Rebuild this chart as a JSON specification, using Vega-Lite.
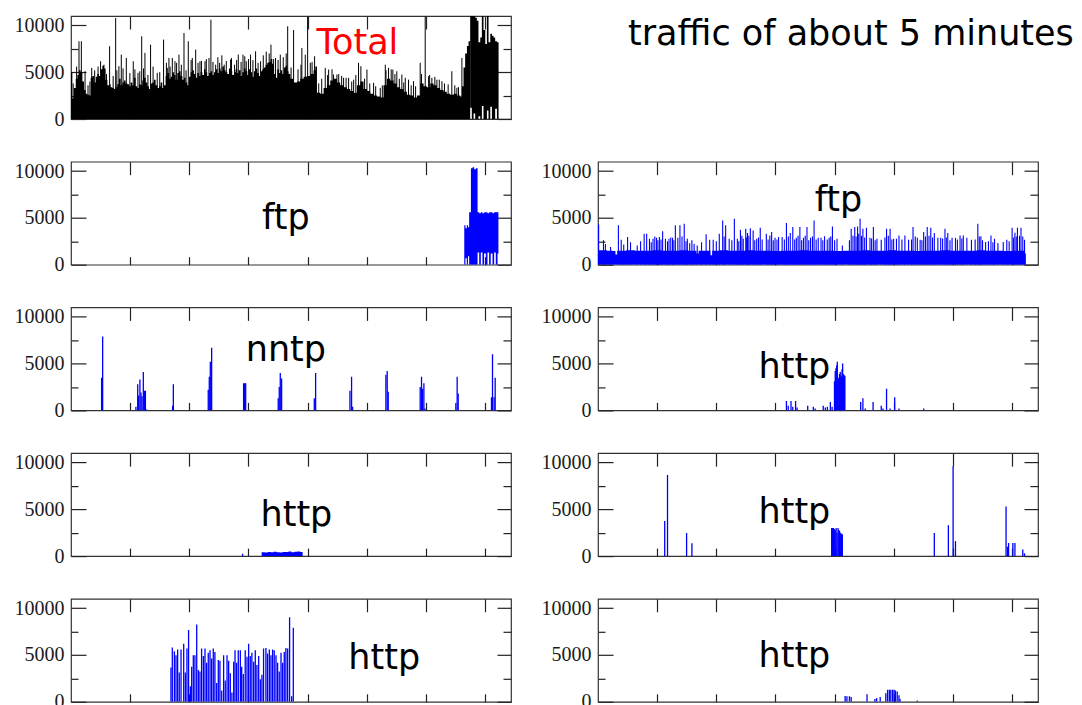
{
  "$schema": "https://vega.github.io/schema/vega-lite/v6.json",
  "padding": {"left": 13, "top": 14, "right": 0, "bottom": 0},
  "background": "white",
  "bounds": "flush",
  "columns": 2,
  "spacing": {"row": 42.7, "column": 87},
  "config": {
    "view": {"stroke": "#333333", "strokeWidth": 1.2},
    "axis": {"domain": false, "grid": false, "minExtent": 0, "tickColor": "#222222", "tickWidth": 1.2, "labelFont": "Liberation Serif", "labelFontSize": 20, "labelColor": "#1a1a1a"},
    "text": {"font": "DejaVu Sans", "fontSize": 35, "baseline": "alphabetic", "align": "center", "color": "#000000"}
  },
  "datasets": {
    "total_body": [
      {"t":0.0,"v":5000},{"t":0.9,"v":2200},{"t":2.0,"v":3300},{"t":3.2,"v":4300},{"t":4.3,"v":4700},{"t":5.4,"v":5200},{"t":6.5,"v":5000},{"t":7.7,"v":4000},{"t":8.8,"v":3100},{"t":9.9,"v":2700},
      {"t":11.0,"v":2600},{"t":12.2,"v":2500},{"t":13.3,"v":4400},{"t":14.4,"v":4600},{"t":15.5,"v":3900},{"t":16.7,"v":4500},{"t":17.8,"v":4800},{"t":18.9,"v":4600},{"t":20.0,"v":5300},{"t":21.2,"v":5700},
      {"t":22.3,"v":5400},{"t":23.4,"v":4200},{"t":24.6,"v":3600},{"t":25.7,"v":3700},{"t":26.8,"v":3400},{"t":27.9,"v":3300},{"t":29.1,"v":3200},{"t":30.2,"v":3400},{"t":31.3,"v":3700},{"t":32.4,"v":4300},
      {"t":33.6,"v":3600},{"t":34.7,"v":3900},{"t":35.8,"v":4100},{"t":36.9,"v":3800},{"t":38.1,"v":3700},{"t":39.2,"v":3500},{"t":40.3,"v":3900},{"t":41.5,"v":3600},{"t":42.6,"v":4400},{"t":43.7,"v":3500},
      {"t":44.8,"v":3300},{"t":46.0,"v":3700},{"t":47.1,"v":3600},{"t":48.2,"v":4100},{"t":49.3,"v":4400},{"t":50.5,"v":3900},{"t":51.6,"v":3500},{"t":52.7,"v":3200},{"t":53.8,"v":3800},{"t":55.0,"v":3900},
      {"t":56.1,"v":4200},{"t":57.2,"v":3600},{"t":58.4,"v":3300},{"t":59.5,"v":3500},{"t":60.6,"v":3900},{"t":61.7,"v":3300},{"t":62.9,"v":3600},{"t":64.0,"v":4600},{"t":65.1,"v":4900},{"t":66.2,"v":4300},
      {"t":67.4,"v":4500},{"t":68.5,"v":5000},{"t":69.6,"v":4700},{"t":70.7,"v":4200},{"t":71.9,"v":4900},{"t":73.0,"v":5100},{"t":74.1,"v":4600},{"t":75.3,"v":4200},{"t":76.4,"v":4400},{"t":77.5,"v":3900},
      {"t":78.6,"v":3600},{"t":79.8,"v":4500},{"t":80.9,"v":5000},{"t":82.0,"v":5200},{"t":83.1,"v":4800},{"t":84.3,"v":4400},{"t":85.4,"v":4900},{"t":86.5,"v":4600},{"t":87.6,"v":5000},{"t":88.8,"v":4700},
      {"t":89.9,"v":5300},{"t":91.0,"v":5000},{"t":92.1,"v":4600},{"t":93.3,"v":4900},{"t":94.4,"v":5100},{"t":95.5,"v":4700},{"t":96.7,"v":5000},{"t":97.8,"v":5300},{"t":98.9,"v":4900},{"t":100.0,"v":5400},
      {"t":101.2,"v":5100},{"t":102.3,"v":5600},{"t":103.4,"v":5200},{"t":104.5,"v":5000},{"t":105.7,"v":4800},{"t":106.8,"v":5400},{"t":107.9,"v":5100},{"t":109.0,"v":4700},{"t":110.2,"v":5000},{"t":111.3,"v":5300},
      {"t":112.4,"v":4900},{"t":113.5,"v":5200},{"t":114.7,"v":4600},{"t":115.8,"v":5000},{"t":116.9,"v":5400},{"t":118.1,"v":5100},{"t":119.2,"v":4700},{"t":120.3,"v":5300},{"t":121.4,"v":5000},{"t":122.6,"v":4500},
      {"t":123.7,"v":5100},{"t":124.8,"v":5400},{"t":125.9,"v":4900},{"t":127.1,"v":4600},{"t":128.2,"v":5100},{"t":129.3,"v":5300},{"t":130.4,"v":5500},{"t":131.6,"v":5800},{"t":132.7,"v":6000},{"t":133.8,"v":6100},
      {"t":134.9,"v":6400},{"t":136.1,"v":5900},{"t":137.2,"v":4800},{"t":138.3,"v":4400},{"t":139.5,"v":5300},{"t":140.6,"v":4900},{"t":141.7,"v":5200},{"t":142.8,"v":4800},{"t":144.0,"v":5500},{"t":145.1,"v":5700},
      {"t":146.2,"v":5100},{"t":147.1,"v":4800},{"t":148.3,"v":4300},{"t":150.5,"v":3900},{"t":152.8,"v":4000},{"t":155.0,"v":4300},{"t":157.3,"v":4500},{"t":159.5,"v":4600},{"t":161.8,"v":4800},{"t":164.0,"v":5200},
      {"t":165.2,"v":5600},{"t":166.3,"v":2800},{"t":168.5,"v":2700},{"t":170.8,"v":3300},{"t":173.0,"v":3600},{"t":175.3,"v":4100},{"t":177.5,"v":4300},{"t":179.8,"v":3900},{"t":182.0,"v":3600},{"t":184.3,"v":3400},
      {"t":186.6,"v":3200},{"t":188.8,"v":3000},{"t":191.1,"v":2800},{"t":193.3,"v":3600},{"t":195.6,"v":4000},{"t":197.8,"v":3200},{"t":200.1,"v":3000},{"t":202.3,"v":2700},{"t":204.6,"v":2500},{"t":206.8,"v":2400},
      {"t":209.1,"v":2300},{"t":211.3,"v":3600},{"t":213.6,"v":4300},{"t":215.8,"v":4100},{"t":218.1,"v":3800},{"t":220.3,"v":3400},{"t":222.6,"v":3200},{"t":224.9,"v":2900},{"t":227.1,"v":2600},{"t":229.4,"v":2500},
      {"t":231.6,"v":2300},{"t":233.9,"v":2500},{"t":236.1,"v":3800},{"t":238.4,"v":3500},{"t":240.6,"v":3400},{"t":242.9,"v":3800},{"t":245.1,"v":3600},{"t":247.4,"v":3300},{"t":249.6,"v":3100},{"t":251.9,"v":2900},
      {"t":254.1,"v":2700},{"t":256.4,"v":2600},{"t":258.7,"v":2700},{"t":260.9,"v":2500},{"t":263.2,"v":2400},{"t":264.3,"v":3500},{"t":265.4,"v":5500},{"t":266.5,"v":7000},{"t":267.7,"v":7800},{"t":268.8,"v":8300},
      {"t":269.9,"v":8300}
    ],
    "total_burst": [
      {"t":269.9,"hi":11500,"lo":1200},{"t":271.0,"hi":11500,"lo":0},{"t":272.2,"hi":11500,"lo":600},{"t":273.3,"hi":10800,"lo":0},{"t":274.4,"hi":10500,"lo":0},
      {"t":275.5,"hi":8200,"lo":300},{"t":276.7,"hi":8700,"lo":0},{"t":277.8,"hi":11500,"lo":1400},{"t":278.9,"hi":9500,"lo":0},{"t":280.1,"hi":8000,"lo":0},
      {"t":281.2,"hi":11500,"lo":900},{"t":282.3,"hi":8200,"lo":0},{"t":283.5,"hi":9100,"lo":1300},{"t":284.6,"hi":8900,"lo":0},{"t":285.7,"hi":8700,"lo":0},
      {"t":286.8,"hi":8300,"lo":1100},{"t":288.0,"hi":8200,"lo":0},{"t":289.1,"hi":8200,"lo":0}
    ],
    "total_spikes": [
      {"t":5.4,"v":8300},{"t":7.0,"v":8300},{"t":9.5,"v":5100},{"t":14.0,"v":5460},{"t":20.0,"v":6170},{"t":22.3,"v":5800},{"t":26.1,"v":7770},{"t":30.2,"v":10780},{"t":32.4,"v":5640},{"t":34.0,"v":6880},
      {"t":37.4,"v":6520},{"t":42.1,"v":6170},{"t":45.3,"v":4930},{"t":47.8,"v":8830},{"t":50.0,"v":7060},{"t":53.8,"v":7940},{"t":58.3,"v":4930},{"t":62.6,"v":8480},{"t":65.1,"v":5460},{"t":66.2,"v":6520},
      {"t":68.5,"v":6520},{"t":70.3,"v":6170},{"t":73.0,"v":6880},{"t":76.4,"v":9180},{"t":79.3,"v":8300},{"t":82.0,"v":6520},{"t":84.3,"v":7410},{"t":87.2,"v":6170},{"t":90.6,"v":6170},{"t":93.3,"v":6520},
      {"t":94.6,"v":10600},{"t":97.8,"v":5800},{"t":100.5,"v":6000},{"t":103.6,"v":5800},{"t":107.9,"v":6350},{"t":110.6,"v":5800},{"t":113.1,"v":6880},{"t":116.3,"v":6880},{"t":118.5,"v":6170},{"t":121.4,"v":6880},
      {"t":124.8,"v":7230},{"t":128.2,"v":6170},{"t":135.2,"v":7940},{"t":138.3,"v":6520},{"t":141.5,"v":6880},{"t":146.5,"v":9900},{"t":150.5,"v":9500},{"t":156.1,"v":7590},{"t":158.4,"v":6880},{"t":160.0,"v":10950},
      {"t":161.8,"v":6000},{"t":164.7,"v":6700},{"t":171.9,"v":5460},{"t":174.2,"v":5280},{"t":177.5,"v":4750},{"t":179.8,"v":4750},{"t":184.3,"v":4400},{"t":187.7,"v":4400},{"t":191.1,"v":4200},{"t":194.4,"v":6000},
      {"t":196.0,"v":5640},{"t":200.1,"v":5280},{"t":204.6,"v":3870},{"t":209.1,"v":3330},{"t":212.5,"v":5800},{"t":214.7,"v":5460},{"t":217.6,"v":5280},{"t":220.3,"v":5100},{"t":223.7,"v":4750},{"t":226.0,"v":4400},
      {"t":228.2,"v":4200},{"t":231.6,"v":4040},{"t":236.1,"v":6000},{"t":239.5,"v":10950},{"t":241.8,"v":4570},{"t":244.0,"v":4400},{"t":247.4,"v":4200},{"t":250.8,"v":4040},{"t":257.5,"v":5100},{"t":260.9,"v":3330},
      {"t":264.3,"v":6520},
      {"t":1.5,"v":3800},{"t":3.8,"v":5600},{"t":11.5,"v":3600},{"t":12.8,"v":4000},{"t":16.0,"v":5200},{"t":18.3,"v":5600},{"t":24.0,"v":4800},{"t":28.5,"v":4600},{"t":31.0,"v":5200},{"t":35.2,"v":5400},
      {"t":39.8,"v":4900},{"t":43.2,"v":5300},{"t":46.5,"v":5100},{"t":49.0,"v":5400},{"t":52.0,"v":4700},{"t":55.5,"v":5600},{"t":60.0,"v":5000},{"t":64.5,"v":6000},{"t":67.0,"v":5600},{"t":71.4,"v":6000},
      {"t":74.6,"v":5800},{"t":77.8,"v":5200},{"t":81.2,"v":6300},{"t":85.9,"v":6000},{"t":88.2,"v":6200},{"t":91.5,"v":6400},{"t":96.0,"v":6100},{"t":99.3,"v":6600},{"t":102.0,"v":6800},{"t":105.0,"v":6200},
      {"t":108.5,"v":6500},{"t":112.0,"v":6300},{"t":115.0,"v":6100},{"t":117.5,"v":6700},{"t":120.0,"v":6400},{"t":123.0,"v":6300},{"t":126.5,"v":6000},{"t":130.0,"v":6800},{"t":132.0,"v":7200},{"t":134.0,"v":7000},
      {"t":137.0,"v":6400},{"t":140.0,"v":6300},{"t":143.5,"v":6600},{"t":145.5,"v":7000},
      {"t":148.8,"v":5500},{"t":153.5,"v":5300},{"t":155.5,"v":5800},{"t":163.0,"v":6100},{"t":167.5,"v":3800},{"t":169.5,"v":4300},{"t":173.5,"v":4700},{"t":176.5,"v":5300},{"t":181.0,"v":4800},{"t":183.0,"v":4600},
      {"t":186.0,"v":4400},{"t":189.8,"v":4000},{"t":192.6,"v":4700},{"t":198.5,"v":4300},{"t":202.0,"v":3800},{"t":206.0,"v":3500},{"t":210.5,"v":3600},{"t":213.0,"v":5200},{"t":216.5,"v":5300},{"t":219.0,"v":4800},
      {"t":222.0,"v":4300},{"t":225.0,"v":3900},{"t":230.0,"v":3600},{"t":233.0,"v":3500},{"t":237.0,"v":4800},{"t":242.5,"v":4700},{"t":246.0,"v":4500},{"t":249.0,"v":4200},{"t":252.5,"v":3800},{"t":255.0,"v":3700},
      {"t":259.5,"v":3600},{"t":262.0,"v":3400}
    ],
    "ftp1_body": [
      {"t":265.9,"hi":4200,"lo":0},{"t":266.7,"hi":3900,"lo":700},{"t":267.6,"hi":4200,"lo":0},{"t":268.4,"hi":4000,"lo":900},{"t":269.2,"hi":5600,"lo":0},
      {"t":270.4,"hi":10300,"lo":0},{"t":271.5,"hi":10400,"lo":0},{"t":272.6,"hi":10200,"lo":0},{"t":273.8,"hi":10300,"lo":0},{"t":274.9,"hi":5600,"lo":1300},
      {"t":276.0,"hi":5500,"lo":0},{"t":277.1,"hi":5600,"lo":1300},{"t":278.2,"hi":5500,"lo":0},{"t":279.3,"hi":5600,"lo":1200},{"t":280.5,"hi":5600,"lo":0},
      {"t":281.6,"hi":5500,"lo":1300},{"t":282.7,"hi":5600,"lo":0},{"t":283.8,"hi":5600,"lo":1200},{"t":285.0,"hi":5500,"lo":0},{"t":286.1,"hi":5600,"lo":1300},
      {"t":287.2,"hi":5600,"lo":0},{"t":288.4,"hi":5600,"lo":1200},{"t":289.0,"hi":5600,"lo":1200}
    ],
    "ftp2_body": [
      {"t":0,"v":4300},{"t":0.8,"v":1550},{"t":6,"v":1500},{"t":10,"v":1450},{"t":11.8,"v":1100},{"t":13,"v":1500},{"t":19,"v":1550},{"t":25,"v":1500},{"t":31,"v":1500},{"t":37,"v":1550},
      {"t":43,"v":1500},{"t":49,"v":1500},{"t":55,"v":1550},{"t":61,"v":1500},{"t":66.6,"v":1200},{"t":68,"v":1500},{"t":74,"v":1500},{"t":76,"v":1000},{"t":77.2,"v":1500},{"t":82,"v":1550},
      {"t":88,"v":1500},{"t":94,"v":1500},{"t":100,"v":1550},{"t":106,"v":1500},{"t":112,"v":1500},{"t":118,"v":1450},{"t":124,"v":1500},{"t":130,"v":1500},{"t":136,"v":1550},{"t":142,"v":1500},
      {"t":148,"v":1500},{"t":154,"v":1500},{"t":160,"v":1450},{"t":166,"v":1500},{"t":172,"v":1500},{"t":178,"v":1550},{"t":184,"v":1500},{"t":190,"v":1500},{"t":196,"v":1550},{"t":202,"v":1500},
      {"t":208,"v":1500},{"t":214,"v":1450},{"t":220,"v":1500},{"t":226,"v":1500},{"t":232,"v":1550},{"t":238,"v":1500},{"t":244,"v":1500},{"t":250,"v":1500},{"t":256,"v":1550},{"t":262,"v":1500},
      {"t":268,"v":1500},{"t":274,"v":1450},{"t":280,"v":1500},{"t":286,"v":1500},{"t":288.6,"v":1200},{"t":289.3,"v":1200}
    ],
    "ftp2_spikes": [
      {"t":3.7,"v":2600},{"t":13.8,"v":4200},{"t":15.7,"v":2670},{"t":17.4,"v":2170},{"t":20.0,"v":2950},{"t":26.5,"v":2060},{"t":31.2,"v":3310},{"t":32.9,"v":3310},{"t":34.8,"v":2780},{"t":37.2,"v":2780},
      {"t":39.6,"v":2880},{"t":41.5,"v":2950},{"t":43.7,"v":3560},{"t":45.6,"v":2780},{"t":48.0,"v":2780},{"t":50.4,"v":2880},{"t":52.3,"v":4200},{"t":54.0,"v":2880},{"t":55.4,"v":4200},{"t":58.3,"v":4380},
      {"t":60.4,"v":2780},{"t":63.5,"v":2600},{"t":67.1,"v":2060},{"t":73.1,"v":3240},{"t":75.5,"v":2670},{"t":77.9,"v":2670},{"t":82.0,"v":3310},{"t":84.3,"v":4730},{"t":86.3,"v":4200},{"t":88.7,"v":2780},
      {"t":92.2,"v":4910},{"t":94.2,"v":2780},{"t":96.3,"v":3740},{"t":98.2,"v":2780},{"t":99.9,"v":3840},{"t":101.1,"v":3380},{"t":103.0,"v":3900},{"t":104.9,"v":3650},{"t":107.3,"v":2780},{"t":109.7,"v":3950},
      {"t":113.8,"v":3310},{"t":116.2,"v":3130},{"t":117.4,"v":3490},{"t":119.7,"v":2880},{"t":122.1,"v":2950},{"t":124.5,"v":2950},{"t":127.4,"v":4450},{"t":130.0,"v":3380},{"t":131.7,"v":4020},{"t":134.1,"v":2880},
      {"t":136.5,"v":4020},{"t":138.9,"v":2880},{"t":141.3,"v":4020},{"t":143.7,"v":2880},{"t":146.1,"v":4730},{"t":148.9,"v":2880},{"t":150.8,"v":2880},{"t":153.2,"v":3030},{"t":156.3,"v":2880},{"t":158.5,"v":4090},
      {"t":161.6,"v":2780},{"t":165.2,"v":2060},{"t":171.2,"v":3850},{"t":173.6,"v":4020},{"t":175.5,"v":4090},{"t":177.2,"v":4910},{"t":179.1,"v":3850},{"t":181.5,"v":3950},{"t":183.9,"v":2880},{"t":186.2,"v":4020},
      {"t":188.6,"v":2780},{"t":191.5,"v":2670},{"t":195.1,"v":3850},{"t":197.5,"v":3850},{"t":199.9,"v":2780},{"t":201.8,"v":2780},{"t":203.5,"v":3130},{"t":207.5,"v":3130},{"t":210.0,"v":2670},{"t":213.0,"v":4020},
      {"t":215.9,"v":2880},{"t":217.8,"v":2670},{"t":220.2,"v":3490},{"t":222.6,"v":4020},{"t":225.0,"v":3950},{"t":227.4,"v":3380},{"t":229.8,"v":2880},{"t":231.7,"v":2880},{"t":234.6,"v":3850},{"t":236.5,"v":3380},
      {"t":239.4,"v":2880},{"t":241.7,"v":2880},{"t":244.8,"v":3130},{"t":247.0,"v":3130},{"t":249.4,"v":2880},{"t":252.5,"v":2670},{"t":256.8,"v":4380},{"t":258.9,"v":3030},{"t":262.1,"v":2420},{"t":265.7,"v":3130},
      {"t":268.1,"v":2780},{"t":270.4,"v":2310},{"t":274.0,"v":2420},{"t":276.4,"v":2670},{"t":280.0,"v":3950},{"t":281.9,"v":3400},{"t":283.6,"v":3950},{"t":286.0,"v":3950},{"t":288.4,"v":2670},
      {"t":5.0,"v":2200},{"t":8.5,"v":1900},{"t":22.0,"v":2400},{"t":28.8,"v":2500},{"t":36.0,"v":2400},{"t":38.4,"v":3000},{"t":40.5,"v":2600},{"t":42.6,"v":2700},{"t":47.0,"v":2500},{"t":49.2,"v":2900},
      {"t":51.3,"v":2600},{"t":56.8,"v":3000},{"t":59.5,"v":2500},{"t":62.0,"v":2300},{"t":65.0,"v":2200},{"t":70.0,"v":2400},{"t":80.0,"v":2500},{"t":85.3,"v":3000},{"t":90.5,"v":2600},{"t":95.2,"v":2500},
      {"t":97.3,"v":3100},{"t":100.5,"v":2900},{"t":102.0,"v":3100},{"t":106.0,"v":2600},{"t":108.5,"v":2900},{"t":111.0,"v":2700},{"t":115.0,"v":2700},{"t":118.5,"v":2600},{"t":121.0,"v":2700},{"t":126.0,"v":2700},
      {"t":128.7,"v":3000},{"t":133.0,"v":2700},{"t":135.3,"v":3100},{"t":137.7,"v":2600},{"t":140.1,"v":3100},{"t":142.5,"v":2600},{"t":145.0,"v":3000},{"t":147.5,"v":2700},{"t":152.0,"v":2600},{"t":155.0,"v":2700},
      {"t":157.4,"v":3000},{"t":160.0,"v":2600},{"t":170.0,"v":2600},{"t":172.4,"v":3100},{"t":174.5,"v":3000},{"t":176.3,"v":3300},{"t":178.2,"v":3100},{"t":180.3,"v":2900},{"t":185.0,"v":2800},{"t":187.4,"v":2600},
      {"t":194.0,"v":2900},{"t":196.3,"v":3100},{"t":198.7,"v":2700},{"t":205.5,"v":2700},{"t":212.0,"v":2700},{"t":214.5,"v":3000},{"t":219.0,"v":2600},{"t":221.4,"v":3000},{"t":223.8,"v":3100},{"t":226.2,"v":2900},
      {"t":233.0,"v":2800},{"t":235.5,"v":2900},{"t":238.0,"v":2600},{"t":243.0,"v":2700},{"t":246.0,"v":2800},{"t":255.0,"v":2700},{"t":257.8,"v":3000},{"t":260.0,"v":2600},{"t":264.0,"v":2500},{"t":267.0,"v":2400},
      {"t":278.0,"v":2500},{"t":281.0,"v":2900},{"t":282.8,"v":3000},{"t":285.0,"v":3100},{"t":287.2,"v":3000}
    ],
    "nntp_spikes": [
      {"t":20.7,"v":3500},{"t":21.4,"v":7900},
      {"t":43.9,"v":400},{"t":45.1,"v":2800},{"t":45.7,"v":1600},{"t":46.6,"v":3300},{"t":47.3,"v":1900},{"t":48.0,"v":1500},{"t":48.9,"v":4100},{"t":49.6,"v":2100},{"t":50.3,"v":2100},{"t":51.2,"v":100},
      {"t":68.7,"v":500},{"t":69.2,"v":2800},
      {"t":92.8,"v":2200},{"t":93.5,"v":3600},{"t":94.2,"v":5200},{"t":95.1,"v":6700},
      {"t":116.7,"v":2900},{"t":117.4,"v":2900},{"t":118.1,"v":2900},
      {"t":140.1,"v":1300},{"t":140.8,"v":2500},{"t":141.5,"v":4000},{"t":142.4,"v":3400},
      {"t":164.5,"v":1300},{"t":165.4,"v":4000},
      {"t":188.6,"v":2100},{"t":189.7,"v":3600},{"t":190.4,"v":400},
      {"t":212.9,"v":3800},{"t":213.8,"v":4200},{"t":214.5,"v":2000},
      {"t":236.1,"v":2500},{"t":237.0,"v":3600},{"t":237.7,"v":2300},{"t":238.6,"v":2900},{"t":239.3,"v":200},
      {"t":260.2,"v":800},{"t":261.1,"v":3600},{"t":261.8,"v":1800},
      {"t":284.3,"v":1400},{"t":285.0,"v":6000},{"t":286.1,"v":1400},{"t":286.8,"v":3500}
    ],
    "http3_spikes": [
      {"t":127.4,"v":1000},{"t":128.6,"v":500},{"t":130.5,"v":1000},{"t":131.7,"v":400},{"t":133.6,"v":1000},{"t":134.6,"v":300},{"t":141.8,"v":500},{"t":145.6,"v":400},{"t":146.8,"v":200},
      {"t":152.3,"v":500},{"t":153.7,"v":300},{"t":155.1,"v":400},{"t":157.1,"v":900},{"t":158.3,"v":400},
      {"t":159.9,"v":3100},{"t":160.4,"v":4200},{"t":160.9,"v":4500},{"t":161.4,"v":4800},{"t":161.8,"v":5200},{"t":162.3,"v":3300},{"t":162.8,"v":3500},{"t":163.3,"v":3900},{"t":163.8,"v":4100},
      {"t":164.2,"v":3700},{"t":164.7,"v":3600},{"t":165.0,"v":4400},{"t":165.4,"v":5000},{"t":165.8,"v":3900},{"t":166.2,"v":3800},{"t":166.6,"v":3700},{"t":166.9,"v":3700},
      {"t":177.6,"v":900},{"t":179.1,"v":1300},{"t":180.7,"v":200},{"t":186.0,"v":900},{"t":191.5,"v":500},{"t":192.7,"v":200},{"t":195.1,"v":2300},{"t":197.5,"v":200},{"t":200.6,"v":1400},{"t":203.5,"v":200},{"t":220.2,"v":200}
    ],
    "http4l_body": [
      {"t":128.9,"v":420},{"t":131,"v":380},{"t":133,"v":450},{"t":135,"v":400},{"t":137,"v":470},{"t":139,"v":420},{"t":141,"v":380},{"t":143,"v":450},
      {"t":145,"v":430},{"t":147,"v":480},{"t":149,"v":420},{"t":151,"v":460},{"t":153,"v":500},{"t":155,"v":430},{"t":156.6,"v":430}
    ],
    "http4l_spikes": [{"t":116.0,"v":250}],
    "http4r_spikes": [
      {"t":45.1,"v":3750},{"t":47.0,"v":8670},{"t":59.9,"v":2460},{"t":63.5,"v":1370},
      {"t":158.0,"v":3000},{"t":158.6,"v":3000},{"t":159.2,"v":3000},{"t":159.8,"v":2900},{"t":160.4,"v":2800},{"t":161.0,"v":3000},{"t":161.6,"v":2500},{"t":162.3,"v":3000},{"t":162.8,"v":2800},
      {"t":163.3,"v":2700},{"t":163.8,"v":2500},{"t":164.2,"v":2400},{"t":164.7,"v":2400},{"t":165.2,"v":2300},
      {"t":227.4,"v":2460},{"t":236.9,"v":3300},{"t":240.1,"v":9600},{"t":241.7,"v":1600},
      {"t":275.9,"v":5300},{"t":276.9,"v":1000},{"t":277.6,"v":1400},{"t":280.5,"v":1400},{"t":281.9,"v":1400},{"t":287.2,"v":700},{"t":288.4,"v":300}
    ],
    "http5l_spikes": [
      {"t":67.6,"v":3650},{"t":68.5,"v":5790},{"t":69.9,"v":5400},{"t":71.0,"v":4980},{"t":72.1,"v":5580},{"t":73.2,"v":3120},{"t":74.4,"v":5580},{"t":76.2,"v":6210},{"t":77.3,"v":3120},{"t":78.4,"v":5680},
      {"t":79.5,"v":7680},{"t":80.7,"v":1650},{"t":81.6,"v":3750},{"t":82.7,"v":4980},{"t":83.8,"v":4980},{"t":85.0,"v":8250},{"t":86.1,"v":3400},{"t":87.2,"v":3230},{"t":88.3,"v":5680},{"t":89.5,"v":4880},
      {"t":90.6,"v":5680},{"t":91.7,"v":4180},{"t":92.8,"v":5230},{"t":94.0,"v":5510},{"t":95.1,"v":4630},{"t":96.2,"v":5680},{"t":97.3,"v":5330},{"t":98.5,"v":2000},{"t":99.6,"v":4460},{"t":100.7,"v":4390},
      {"t":101.9,"v":1200},{"t":103.2,"v":4980},{"t":104.3,"v":2280},{"t":105.5,"v":4980},{"t":106.6,"v":4390},{"t":107.7,"v":3050},{"t":108.8,"v":1000},{"t":110.0,"v":4280},{"t":110.9,"v":5510},{"t":112.0,"v":4180},
      {"t":113.1,"v":5510},{"t":114.5,"v":5510},{"t":115.4,"v":3750},{"t":116.5,"v":2980},{"t":117.8,"v":5510},{"t":119.0,"v":4810},{"t":120.1,"v":6210},{"t":121.2,"v":4880},{"t":122.3,"v":5230},{"t":123.5,"v":4280},
      {"t":124.6,"v":5510},{"t":125.7,"v":3930},{"t":126.9,"v":4880},{"t":128.0,"v":2420},{"t":129.1,"v":2880},{"t":130.2,"v":5680},{"t":131.8,"v":5750},{"t":132.9,"v":5160},{"t":134.1,"v":5580},{"t":135.2,"v":4980},
      {"t":136.3,"v":5580},{"t":137.4,"v":5510},{"t":138.6,"v":4980},{"t":139.7,"v":4180},{"t":140.8,"v":3230},{"t":142.0,"v":5230},{"t":143.1,"v":4180},{"t":144.2,"v":5330},{"t":145.3,"v":5750},{"t":146.5,"v":5680},
      {"t":147.8,"v":9020},{"t":149.2,"v":600},{"t":150.3,"v":7900}
    ],
    "http5r_spikes": [
      {"t":167.1,"v":630},{"t":168.3,"v":600},{"t":170.0,"v":600},{"t":171.2,"v":500},{"t":181.9,"v":800},{"t":187.2,"v":300},{"t":188.4,"v":400},{"t":190.8,"v":500},{"t":194.6,"v":900},
      {"t":195.8,"v":1300},{"t":197.0,"v":1300},{"t":198.0,"v":1300},{"t":199.2,"v":1300},{"t":200.2,"v":1300},{"t":201.1,"v":1200},{"t":202.3,"v":1100},{"t":203.5,"v":700},{"t":204.2,"v":300},{"t":215.9,"v":150}
    ]
  },
  "concat": [
    {
      "width": 440, "height": 103,
      "resolve": {"axis": {"x": "independent", "y": "independent"}},
      "layer": [
        {
          "data": {"name": "total_body"},
          "mark": {"type": "area", "interpolate": "step-after", "color": "#000000", "clip": true},
          "encoding": {
            "x": {"field": "t", "type": "quantitative", "scale": {"domain": [0, 297.5], "nice": false, "zero": false},
                  "axis": {"orient": "bottom", "title": null, "values": [40, 80, 120, 160, 200, 240, 280], "labels": false, "tickSize": -8}},
            "y": {"field": "v", "type": "quantitative", "scale": {"domain": [0, 11000], "nice": false},
                  "axis": {"orient": "left", "title": null, "values": [0, 2500, 5000, 7500, 10000], "format": "d", "labelPadding": 22,
                           "labelExpr": "datum.value % 5000 === 0 ? datum.label : ''",
                           "tickSize": {"condition": {"test": "datum.value % 5000 === 0", "value": -15}, "value": -7}}}
          }
        },
        {
          "data": {"name": "total_burst"},
          "mark": {"type": "area", "interpolate": "step-after", "color": "#000000", "clip": true},
          "encoding": {
            "x": {"field": "t", "type": "quantitative", "axis": null},
            "y": {"field": "hi", "type": "quantitative", "axis": null},
            "y2": {"field": "lo"}
          }
        },
        {
          "data": {"name": "total_spikes"},
          "mark": {"type": "rule", "color": "#000000", "strokeWidth": 1, "clip": true},
          "encoding": {
            "x": {"field": "t", "type": "quantitative", "axis": null},
            "y": {"field": "v", "type": "quantitative", "axis": null},
            "y2": {"datum": 0}
          }
        },
        {
          "data": {"values": [{"label": "Total"}]},
          "mark": {"type": "text", "color": "#ff0000"},
          "encoding": {
            "x": {"datum": 193.7, "type": "quantitative",
                  "axis": {"orient": "top", "title": null, "values": [40, 80, 120, 160, 200, 240, 280], "labels": false, "tickSize": -13}},
            "y": {"datum": 6940, "type": "quantitative",
                  "axis": {"orient": "right", "title": null, "values": [0, 2500, 5000, 7500, 10000], "labels": false,
                           "tickSize": {"condition": {"test": "datum.value % 5000 === 0", "value": -14}, "value": -8}}},
            "text": {"field": "label"}
          }
        }
      ]
    },
    {
      "width": 440, "height": 103,
      "view": {"stroke": null},
      "data": {"values": [{"label": "traffic of about 5 minutes"}]},
      "mark": {"type": "text"},
      "encoding": {
        "x": {"datum": 171, "type": "quantitative", "scale": {"domain": [0, 297.5], "nice": false, "zero": false}, "axis": null},
        "y": {"datum": 7900, "type": "quantitative", "scale": {"domain": [0, 11000], "nice": false}, "axis": null},
        "text": {"field": "label"}
      }
    },
    {
      "width": 440, "height": 103,
      "resolve": {"axis": {"x": "independent", "y": "independent"}},
      "layer": [
        {
          "data": {"name": "ftp1_body"},
          "mark": {"type": "area", "interpolate": "step-after", "color": "#0000ff", "clip": true},
          "encoding": {
            "x": {"field": "t", "type": "quantitative", "scale": {"domain": [0, 297.5], "nice": false, "zero": false},
                  "axis": {"orient": "bottom", "title": null, "values": [40, 80, 120, 160, 200, 240, 280], "labels": false, "tickSize": -8}},
            "y": {"field": "hi", "type": "quantitative", "scale": {"domain": [0, 11000], "nice": false},
                  "axis": {"orient": "left", "title": null, "values": [0, 2500, 5000, 7500, 10000], "format": "d", "labelPadding": 22,
                           "labelExpr": "datum.value % 5000 === 0 ? datum.label : ''",
                           "tickSize": {"condition": {"test": "datum.value % 5000 === 0", "value": -15}, "value": -7}}},
            "y2": {"field": "lo"}
          }
        },
        {
          "data": {"values": [{"label": "ftp"}]},
          "mark": {"type": "text"},
          "encoding": {
            "x": {"datum": 145.3, "type": "quantitative",
                  "axis": {"orient": "top", "title": null, "values": [40, 80, 120, 160, 200, 240, 280], "labels": false, "tickSize": -13}},
            "y": {"datum": 3780, "type": "quantitative",
                  "axis": {"orient": "right", "title": null, "values": [0, 2500, 5000, 7500, 10000], "labels": false,
                           "tickSize": {"condition": {"test": "datum.value % 5000 === 0", "value": -14}, "value": -8}}},
            "text": {"field": "label"}
          }
        }
      ]
    },
    {
      "width": 440, "height": 103,
      "resolve": {"axis": {"x": "independent", "y": "independent"}},
      "layer": [
        {
          "data": {"name": "ftp2_body"},
          "mark": {"type": "area", "interpolate": "step-after", "color": "#0000ff", "clip": true},
          "encoding": {
            "x": {"field": "t", "type": "quantitative", "scale": {"domain": [0, 297.5], "nice": false, "zero": false},
                  "axis": {"orient": "bottom", "title": null, "values": [40, 80, 120, 160, 200, 240, 280], "labels": false, "tickSize": -8}},
            "y": {"field": "v", "type": "quantitative", "scale": {"domain": [0, 11000], "nice": false},
                  "axis": {"orient": "left", "title": null, "values": [0, 2500, 5000, 7500, 10000], "format": "d", "labelPadding": 22,
                           "labelExpr": "datum.value % 5000 === 0 ? datum.label : ''",
                           "tickSize": {"condition": {"test": "datum.value % 5000 === 0", "value": -15}, "value": -7}}}
          }
        },
        {
          "data": {"name": "ftp2_spikes"},
          "mark": {"type": "rule", "color": "#0000ff", "strokeWidth": 1.1, "clip": true},
          "encoding": {
            "x": {"field": "t", "type": "quantitative", "axis": null},
            "y": {"field": "v", "type": "quantitative", "axis": null},
            "y2": {"datum": 0}
          }
        },
        {
          "data": {"values": [{"label": "ftp"}]},
          "mark": {"type": "text"},
          "encoding": {
            "x": {"datum": 162.6, "type": "quantitative",
                  "axis": {"orient": "top", "title": null, "values": [40, 80, 120, 160, 200, 240, 280], "labels": false, "tickSize": -13}},
            "y": {"datum": 5735, "type": "quantitative",
                  "axis": {"orient": "right", "title": null, "values": [0, 2500, 5000, 7500, 10000], "labels": false,
                           "tickSize": {"condition": {"test": "datum.value % 5000 === 0", "value": -14}, "value": -8}}},
            "text": {"field": "label"}
          }
        }
      ]
    },
    {
      "width": 440, "height": 103,
      "resolve": {"axis": {"x": "independent", "y": "independent"}},
      "layer": [
        {
          "data": {"name": "nntp_spikes"},
          "mark": {"type": "rule", "color": "#0000ff", "strokeWidth": 1.3, "clip": true},
          "encoding": {
            "x": {"field": "t", "type": "quantitative", "scale": {"domain": [0, 297.5], "nice": false, "zero": false},
                  "axis": {"orient": "bottom", "title": null, "values": [40, 80, 120, 160, 200, 240, 280], "labels": false, "tickSize": -8}},
            "y": {"field": "v", "type": "quantitative", "scale": {"domain": [0, 11000], "nice": false},
                  "axis": {"orient": "left", "title": null, "values": [0, 2500, 5000, 7500, 10000], "format": "d", "labelPadding": 22,
                           "labelExpr": "datum.value % 5000 === 0 ? datum.label : ''",
                           "tickSize": {"condition": {"test": "datum.value % 5000 === 0", "value": -15}, "value": -7}}},
            "y2": {"datum": 0}
          }
        },
        {
          "data": {"values": [{"label": "nntp"}]},
          "mark": {"type": "text"},
          "encoding": {
            "x": {"datum": 145.3, "type": "quantitative",
                  "axis": {"orient": "top", "title": null, "values": [40, 80, 120, 160, 200, 240, 280], "labels": false, "tickSize": -13}},
            "y": {"datum": 5265, "type": "quantitative",
                  "axis": {"orient": "right", "title": null, "values": [0, 2500, 5000, 7500, 10000], "labels": false,
                           "tickSize": {"condition": {"test": "datum.value % 5000 === 0", "value": -14}, "value": -8}}},
            "text": {"field": "label"}
          }
        }
      ]
    },
    {
      "width": 440, "height": 103,
      "resolve": {"axis": {"x": "independent", "y": "independent"}},
      "layer": [
        {
          "data": {"name": "http3_spikes"},
          "mark": {"type": "rule", "color": "#0000ff", "strokeWidth": 1.3, "clip": true},
          "encoding": {
            "x": {"field": "t", "type": "quantitative", "scale": {"domain": [0, 297.5], "nice": false, "zero": false},
                  "axis": {"orient": "bottom", "title": null, "values": [40, 80, 120, 160, 200, 240, 280], "labels": false, "tickSize": -8}},
            "y": {"field": "v", "type": "quantitative", "scale": {"domain": [0, 11000], "nice": false},
                  "axis": {"orient": "left", "title": null, "values": [0, 2500, 5000, 7500, 10000], "format": "d", "labelPadding": 22,
                           "labelExpr": "datum.value % 5000 === 0 ? datum.label : ''",
                           "tickSize": {"condition": {"test": "datum.value % 5000 === 0", "value": -15}, "value": -7}}},
            "y2": {"datum": 0}
          }
        },
        {
          "data": {"values": [{"label": "http"}]},
          "mark": {"type": "text"},
          "encoding": {
            "x": {"datum": 132.8, "type": "quantitative",
                  "axis": {"orient": "top", "title": null, "values": [40, 80, 120, 160, 200, 240, 280], "labels": false, "tickSize": -13}},
            "y": {"datum": 3450, "type": "quantitative",
                  "axis": {"orient": "right", "title": null, "values": [0, 2500, 5000, 7500, 10000], "labels": false,
                           "tickSize": {"condition": {"test": "datum.value % 5000 === 0", "value": -14}, "value": -8}}},
            "text": {"field": "label"}
          }
        }
      ]
    },
    {
      "width": 440, "height": 103,
      "resolve": {"axis": {"x": "independent", "y": "independent"}},
      "layer": [
        {
          "data": {"name": "http4l_body"},
          "mark": {"type": "area", "interpolate": "step-after", "color": "#0000ff", "clip": true},
          "encoding": {
            "x": {"field": "t", "type": "quantitative", "scale": {"domain": [0, 297.5], "nice": false, "zero": false},
                  "axis": {"orient": "bottom", "title": null, "values": [40, 80, 120, 160, 200, 240, 280], "labels": false, "tickSize": -8}},
            "y": {"field": "v", "type": "quantitative", "scale": {"domain": [0, 11000], "nice": false},
                  "axis": {"orient": "left", "title": null, "values": [0, 2500, 5000, 7500, 10000], "format": "d", "labelPadding": 22,
                           "labelExpr": "datum.value % 5000 === 0 ? datum.label : ''",
                           "tickSize": {"condition": {"test": "datum.value % 5000 === 0", "value": -15}, "value": -7}}}
          }
        },
        {
          "data": {"name": "http4l_spikes"},
          "mark": {"type": "rule", "color": "#0000ff", "strokeWidth": 1.3, "clip": true},
          "encoding": {
            "x": {"field": "t", "type": "quantitative", "axis": null},
            "y": {"field": "v", "type": "quantitative", "axis": null},
            "y2": {"datum": 0}
          }
        },
        {
          "data": {"values": [{"label": "http"}]},
          "mark": {"type": "text"},
          "encoding": {
            "x": {"datum": 152.4, "type": "quantitative",
                  "axis": {"orient": "top", "title": null, "values": [40, 80, 120, 160, 200, 240, 280], "labels": false, "tickSize": -13}},
            "y": {"datum": 3204, "type": "quantitative",
                  "axis": {"orient": "right", "title": null, "values": [0, 2500, 5000, 7500, 10000], "labels": false,
                           "tickSize": {"condition": {"test": "datum.value % 5000 === 0", "value": -14}, "value": -8}}},
            "text": {"field": "label"}
          }
        }
      ]
    },
    {
      "width": 440, "height": 103,
      "resolve": {"axis": {"x": "independent", "y": "independent"}},
      "layer": [
        {
          "data": {"name": "http4r_spikes"},
          "mark": {"type": "rule", "color": "#0000ff", "strokeWidth": 1.3, "clip": true},
          "encoding": {
            "x": {"field": "t", "type": "quantitative", "scale": {"domain": [0, 297.5], "nice": false, "zero": false},
                  "axis": {"orient": "bottom", "title": null, "values": [40, 80, 120, 160, 200, 240, 280], "labels": false, "tickSize": -8}},
            "y": {"field": "v", "type": "quantitative", "scale": {"domain": [0, 11000], "nice": false},
                  "axis": {"orient": "left", "title": null, "values": [0, 2500, 5000, 7500, 10000], "format": "d", "labelPadding": 22,
                           "labelExpr": "datum.value % 5000 === 0 ? datum.label : ''",
                           "tickSize": {"condition": {"test": "datum.value % 5000 === 0", "value": -15}, "value": -7}}},
            "y2": {"datum": 0}
          }
        },
        {
          "data": {"values": [{"label": "http"}]},
          "mark": {"type": "text"},
          "encoding": {
            "x": {"datum": 132.8, "type": "quantitative",
                  "axis": {"orient": "top", "title": null, "values": [40, 80, 120, 160, 200, 240, 280], "labels": false, "tickSize": -13}},
            "y": {"datum": 3524, "type": "quantitative",
                  "axis": {"orient": "right", "title": null, "values": [0, 2500, 5000, 7500, 10000], "labels": false,
                           "tickSize": {"condition": {"test": "datum.value % 5000 === 0", "value": -14}, "value": -8}}},
            "text": {"field": "label"}
          }
        }
      ]
    },
    {
      "width": 440, "height": 103,
      "resolve": {"axis": {"x": "independent", "y": "independent"}},
      "layer": [
        {
          "data": {"name": "http5l_spikes"},
          "mark": {"type": "rule", "color": "#0000ff", "strokeWidth": 1.3, "clip": true},
          "encoding": {
            "x": {"field": "t", "type": "quantitative", "scale": {"domain": [0, 297.5], "nice": false, "zero": false},
                  "axis": {"orient": "bottom", "title": null, "values": [40, 80, 120, 160, 200, 240, 280], "labels": false, "tickSize": -8}},
            "y": {"field": "v", "type": "quantitative", "scale": {"domain": [0, 11000], "nice": false},
                  "axis": {"orient": "left", "title": null, "values": [0, 2500, 5000, 7500, 10000], "format": "d", "labelPadding": 22,
                           "labelExpr": "datum.value % 5000 === 0 ? datum.label : ''",
                           "tickSize": {"condition": {"test": "datum.value % 5000 === 0", "value": -15}, "value": -7}}},
            "y2": {"datum": 0}
          }
        },
        {
          "data": {"values": [{"label": "http"}]},
          "mark": {"type": "text"},
          "encoding": {
            "x": {"datum": 211.8, "type": "quantitative",
                  "axis": {"orient": "top", "title": null, "values": [40, 80, 120, 160, 200, 240, 280], "labels": false, "tickSize": -13}},
            "y": {"datum": 3460, "type": "quantitative",
                  "axis": {"orient": "right", "title": null, "values": [0, 2500, 5000, 7500, 10000], "labels": false,
                           "tickSize": {"condition": {"test": "datum.value % 5000 === 0", "value": -14}, "value": -8}}},
            "text": {"field": "label"}
          }
        }
      ]
    },
    {
      "width": 440, "height": 103,
      "resolve": {"axis": {"x": "independent", "y": "independent"}},
      "layer": [
        {
          "data": {"name": "http5r_spikes"},
          "mark": {"type": "rule", "color": "#0000ff", "strokeWidth": 1.3, "clip": true},
          "encoding": {
            "x": {"field": "t", "type": "quantitative", "scale": {"domain": [0, 297.5], "nice": false, "zero": false},
                  "axis": {"orient": "bottom", "title": null, "values": [40, 80, 120, 160, 200, 240, 280], "labels": false, "tickSize": -8}},
            "y": {"field": "v", "type": "quantitative", "scale": {"domain": [0, 11000], "nice": false},
                  "axis": {"orient": "left", "title": null, "values": [0, 2500, 5000, 7500, 10000], "format": "d", "labelPadding": 22,
                           "labelExpr": "datum.value % 5000 === 0 ? datum.label : ''",
                           "tickSize": {"condition": {"test": "datum.value % 5000 === 0", "value": -15}, "value": -7}}},
            "y2": {"datum": 0}
          }
        },
        {
          "data": {"values": [{"label": "http"}]},
          "mark": {"type": "text"},
          "encoding": {
            "x": {"datum": 132.8, "type": "quantitative",
                  "axis": {"orient": "top", "title": null, "values": [40, 80, 120, 160, 200, 240, 280], "labels": false, "tickSize": -13}},
            "y": {"datum": 3738, "type": "quantitative",
                  "axis": {"orient": "right", "title": null, "values": [0, 2500, 5000, 7500, 10000], "labels": false,
                           "tickSize": {"condition": {"test": "datum.value % 5000 === 0", "value": -14}, "value": -8}}},
            "text": {"field": "label"}
          }
        }
      ]
    }
  ]
}
